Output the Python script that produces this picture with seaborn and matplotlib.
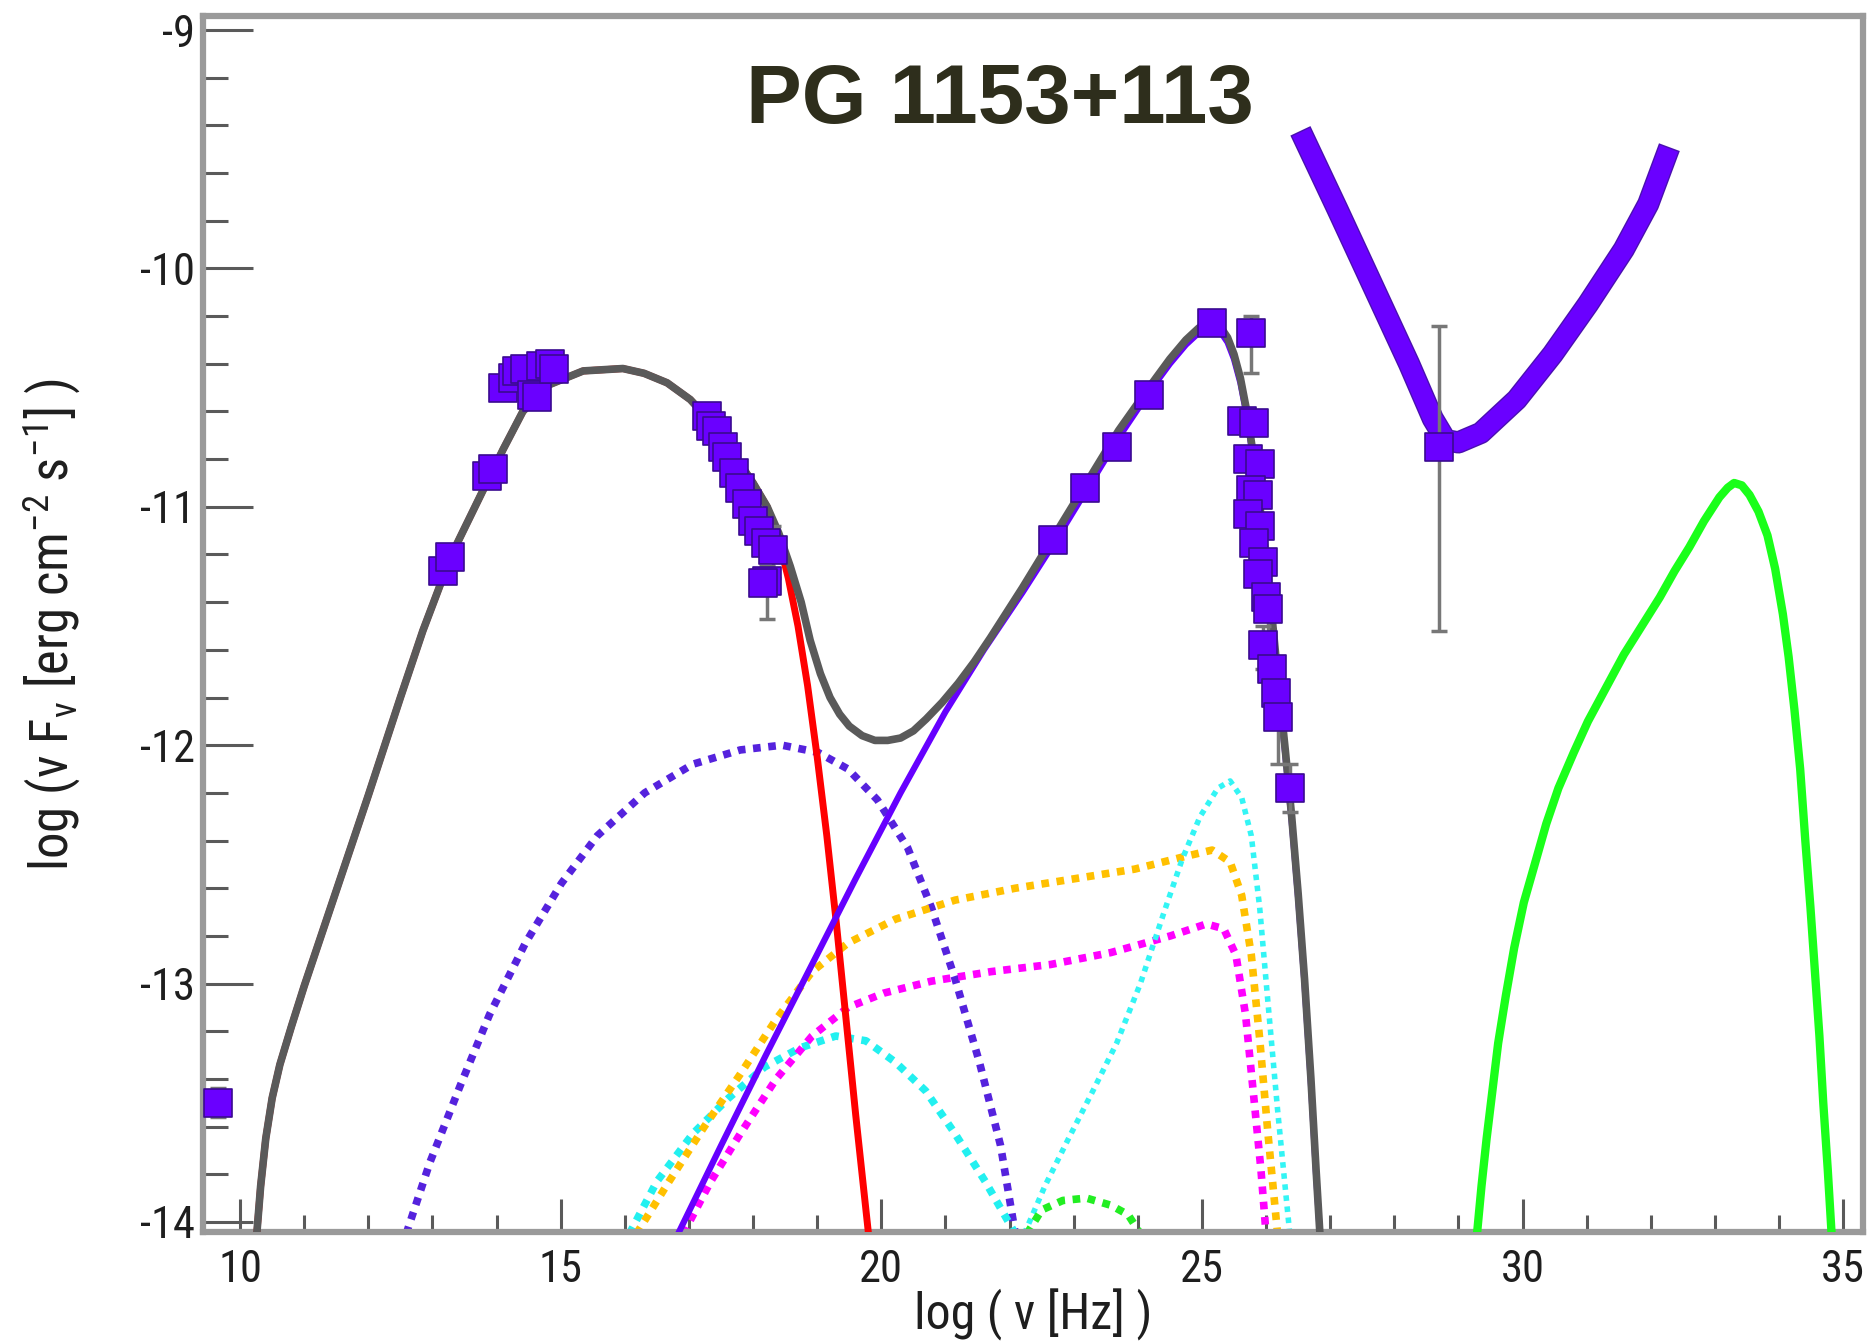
import numpy as np
import pandas as pd
import matplotlib
matplotlib.use("Agg")
import matplotlib.pyplot as plt
import matplotlib.patheffects as pe
from matplotlib import font_manager as fm
from matplotlib.ticker import MultipleLocator, FuncFormatter
import seaborn as sns

# ---------------- data (log nu [Hz], log nuFnu [erg cm^-2 s^-1]) ----------------
total_x = [10.26, 10.32, 10.4, 10.5, 10.62, 10.8, 11.0, 11.5, 12.0, 12.5, 12.85, 13.3, 13.79, 14.1,
           14.41, 14.8, 15.35, 15.97, 16.3, 16.66, 17.02, 17.4, 17.8, 18.0, 18.22, 18.4, 18.58, 18.75,
           18.89, 19.05, 19.2, 19.35, 19.5, 19.7, 19.9, 20.1, 20.3, 20.5, 20.7, 20.95, 21.2, 21.45,
           21.7, 22.2, 22.7, 23.2, 23.7, 24.2, 24.5, 24.75, 24.95, 25.1, 25.2, 25.3, 25.4, 25.5, 25.6,
           25.7, 25.8, 25.9, 26.0, 26.1, 26.2, 26.3, 26.4, 26.5, 26.6, 26.7, 26.78, 26.84]
total_y = [-14.05, -13.85, -13.65, -13.48, -13.34, -13.18, -13.01, -12.61, -12.21, -11.8, -11.52, -11.2,
           -10.93, -10.76, -10.6, -10.49, -10.43, -10.42, -10.44, -10.48, -10.55, -10.66, -10.82, -10.9,
           -11.0, -11.11, -11.25, -11.4, -11.56, -11.7, -11.8, -11.87, -11.92, -11.96, -11.98, -11.98,
           -11.97, -11.94, -11.89, -11.82, -11.74, -11.65, -11.55, -11.34, -11.12, -10.9, -10.68, -10.49,
           -10.38, -10.3, -10.25, -10.225, -10.225, -10.25, -10.29, -10.36, -10.46, -10.6, -10.78, -10.99,
           -11.22, -11.48, -11.76, -12.02, -12.3, -12.62, -12.98, -13.4, -13.78, -14.05]

sync_x = [10.26, 10.32, 10.4, 10.5, 10.62, 10.8, 11.0, 11.5, 12.0, 12.5, 12.85, 13.3, 13.79, 14.1,
          14.41, 14.8, 15.35, 15.97, 16.3, 16.66, 17.02, 17.4, 17.8, 18.0, 18.22, 18.4, 18.55, 18.7,
          18.85, 19.0, 19.15, 19.3, 19.45, 19.6, 19.72, 19.8]
sync_y = [-14.05, -13.85, -13.65, -13.48, -13.34, -13.18, -13.01, -12.61, -12.21, -11.8, -11.52, -11.2,
          -10.93, -10.76, -10.6, -10.49, -10.43, -10.42, -10.44, -10.48, -10.55, -10.66, -10.82, -10.9,
          -11.0, -11.14, -11.3, -11.5, -11.75, -12.05, -12.38, -12.75, -13.15, -13.55, -13.85, -14.05]

ic_x = [16.83, 17.5, 18.2, 18.9, 19.6, 20.3, 21.0, 21.6, 22.2, 22.7, 23.2, 23.7, 24.2, 24.5, 24.75,
        24.95, 25.1, 25.2, 25.3, 25.4, 25.5, 25.6, 25.7, 25.8, 25.9, 26.0, 26.1, 26.2, 26.3, 26.4,
        26.5, 26.6, 26.7, 26.78, 26.84]
ic_y = [-14.05, -13.68, -13.3, -12.93, -12.56, -12.2, -11.86, -11.6, -11.36, -11.15, -10.93, -10.71,
        -10.51, -10.4, -10.32, -10.27, -10.245, -10.245, -10.27, -10.31, -10.38, -10.48, -10.62, -10.8,
        -11.01, -11.24, -11.5, -11.78, -12.04, -12.32, -12.64, -13.0, -13.42, -13.8, -14.05]

vdot_x = [12.59, 12.96, 13.43, 13.89, 14.45, 15.01, 15.57, 16.31, 17.06, 17.8, 18.45, 19.01, 19.48,
          19.94, 20.41, 20.78, 21.15, 21.53, 21.86, 22.09]
vdot_y = [-14.05, -13.75, -13.43, -13.13, -12.83, -12.58, -12.38, -12.2, -12.08, -12.02, -12.0, -12.03,
          -12.1, -12.23, -12.43, -12.68, -12.98, -13.33, -13.68, -14.05]

orange_x = [16.18, 16.69, 17.24, 17.8, 18.36, 18.92, 19.48, 20.22, 21.15, 22.09, 23.02, 23.95, 24.69,
            25.16, 25.44, 25.62, 25.77, 25.9, 26.03, 26.18]
orange_y = [-14.05, -13.83, -13.6, -13.38, -13.15, -12.95, -12.83, -12.73, -12.65, -12.6, -12.56,
            -12.52, -12.47, -12.44, -12.49, -12.63, -12.88, -13.23, -13.63, -14.05]

magenta_x = [16.91, 17.34, 17.8, 18.36, 18.92, 19.48, 20.04, 20.78, 21.71, 22.64, 23.58, 24.51, 25.07,
             25.34, 25.53, 25.68, 25.81, 25.92, 26.0]
magenta_y = [-14.05, -13.83, -13.63, -13.4, -13.22, -13.1, -13.04, -12.99, -12.95, -12.92, -12.87,
             -12.8, -12.75, -12.77, -12.88, -13.13, -13.48, -13.78, -14.05]

cyan1_x = [16.07, 16.5, 17.06, 17.62, 18.18, 18.73, 19.29, 19.76, 20.22, 20.69, 21.15, 21.62, 22.09]
cyan1_y = [-14.05, -13.83, -13.63, -13.48, -13.35, -13.27, -13.22, -13.24, -13.33, -13.45, -13.63,
           -13.83, -14.05]

cyan2_x = [22.23, 22.55, 22.92, 23.3, 23.67, 24.04, 24.41, 24.69, 24.97, 25.25, 25.44, 25.62, 25.77,
           25.9, 26.03, 26.18, 26.37]
cyan2_y = [-14.05, -13.85, -13.65, -13.45, -13.25, -13.0, -12.7, -12.48, -12.3, -12.18, -12.15, -12.22,
           -12.38, -12.68, -13.08, -13.53, -14.05]

gdot_x = [22.27, 22.5, 22.83, 23.2, 23.58, 23.85, 24.04]
gdot_y = [-14.05, -13.95, -13.91, -13.9, -13.93, -13.97, -14.05]

sens_x = [26.61, 27.11, 27.67, 28.23, 28.6, 28.8, 29.0, 29.35, 29.91, 30.47, 31.02, 31.58, 31.96, 32.23]
sens_y = [-9.465, -9.75, -10.075, -10.4, -10.63, -10.72, -10.73, -10.69, -10.55, -10.36, -10.15, -9.92,
          -9.73, -9.535]

nu_x = [29.29, 29.36, 29.44, 29.53, 29.62, 29.74, 29.87, 30.02, 30.19, 30.37, 30.56, 30.8, 31.02, 31.3,
        31.58, 31.86, 32.14, 32.37, 32.6, 32.83, 33.07, 33.2, 33.3, 33.42, 33.54, 33.68, 33.82, 33.94,
        34.06, 34.15, 34.24, 34.33, 34.41, 34.49, 34.56, 34.63, 34.69, 34.76, 34.82]
nu_y = [-14.05, -13.85, -13.65, -13.45, -13.25, -13.05, -12.85, -12.66, -12.5, -12.33, -12.18, -12.03,
        -11.9, -11.76, -11.62, -11.5, -11.38, -11.27, -11.17, -11.06, -10.96, -10.92, -10.9, -10.91,
        -10.95, -11.02, -11.12, -11.26, -11.45, -11.63, -11.85, -12.1, -12.4, -12.68, -12.95, -13.22,
        -13.5, -13.78, -14.05]

obs_x = [9.66,
         13.17, 13.28, 13.85, 13.95, 14.1, 14.25, 14.32, 14.45, 14.55, 14.63, 14.7, 14.83, 14.9,
         17.28, 17.35, 17.43, 17.53, 17.6, 17.7, 17.8, 17.9, 18.0, 18.1, 18.2, 18.31, 18.22, 18.15,
         22.68, 23.17, 23.67, 24.17, 25.16, 25.77,
         25.62, 25.81, 25.72, 25.9, 25.77, 25.87, 25.72, 25.9, 25.81, 25.96, 25.87, 26.0, 26.03, 25.96,
         26.09, 26.15, 26.18, 26.37,
         28.70]
obs_y = [-13.5,
         -11.27, -11.21, -10.87, -10.84, -10.5, -10.46, -10.43, -10.42, -10.53, -10.54, -10.41, -10.40, -10.42,
         -10.62, -10.66, -10.68, -10.75, -10.79, -10.86, -10.92, -10.99, -11.06, -11.1, -11.15, -11.18, -11.31, -11.32,
         -11.14, -10.92, -10.75, -10.53, -10.23, -10.27,
         -10.64, -10.65, -10.80, -10.82, -10.93, -10.95, -11.03, -11.08, -11.15, -11.23, -11.28, -11.38, -11.43, -11.58,
         -11.68, -11.78, -11.88, -12.18,
         -10.75]

err_x = [9.66, 18.31, 18.22, 25.77, 25.96, 26.03, 26.18, 26.37, 28.70]
err_y = [-13.5, -11.18, -11.31, -10.27, -11.58, -11.43, -11.88, -12.18, -10.75]
err_lo = [0.06, 0.12, 0.16, 0.17, 0.1, 0.1, 0.2, 0.1, 0.77]
err_hi = [0.06, 0.1, 0.06, 0.07, 0.08, 0.06, 0.05, 0.1, 0.51]

x_ticks = [10, 15, 20, 25, 30, 35]
y_ticks = [-14, -13, -12, -11, -10, -9]

# ---------------- fonts ----------------
sns.set_style("white")

def pick_narrow():
    prefs = ["Liberation Sans Narrow", "Arial Narrow", "Nimbus Sans Narrow", "Roboto Condensed",
             "Open Sans Condensed", "Noto Sans", "Open Sans", "DejaVu Sans", "Roboto", "Lato"]
    found = {}
    for f in fm.fontManager.ttflist:
        st = str(f.stretch)
        narrow = ("Narrow" in f.name or "Condensed" in f.name or
                  st in ("condensed", "semi-condensed", "extra-condensed"))
        if narrow and f.weight in (400, "normal", "regular", "book") and f.style == "normal":
            found.setdefault(f.name, st)
    for p in prefs:
        if p in found:
            return p, found[p]
    return None, None

nname, nstretch = pick_narrow()
if nname is not None:
    base_family = [nname, "Liberation Sans", "DejaVu Sans"]
    tick_fs, lab_fs, ylab_fs = 32, 36, 38
    math_rm = f"{nname}:stretch={nstretch}" if nstretch not in ("normal", "None") else nname
else:
    base_family = ["Liberation Sans", "DejaVu Sans"]
    tick_fs, lab_fs, ylab_fs = 28, 31, 33
    math_rm = "Liberation Sans"

plt.rcParams["font.family"] = base_family
if nname is not None and nstretch not in ("normal", "None"):
    plt.rcParams["font.stretch"] = nstretch
plt.rcParams["mathtext.fontset"] = "custom"
plt.rcParams["mathtext.rm"] = math_rm
plt.rcParams["mathtext.it"] = math_rm
plt.rcParams["axes.unicode_minus"] = False

fig = plt.figure(figsize=(18.72, 13.42), dpi=100)
ax = fig.add_axes([0.1084, 0.0820, 0.8868, 0.9061])

def curve(xs, ys, color, lw, dotted=False, z=2, **kw):
    df = pd.DataFrame({"x": xs, "y": ys})
    extra = dict(kw)
    if dotted:
        extra["linestyle"] = (0, (1.0, 1.0))
    sns.lineplot(data=df, x="x", y="y", ax=ax, color=color, lw=lw, sort=False,
                 estimator=None, zorder=z, **extra)

dot_lw = 5.5
curve(vdot_x, vdot_y, "#5522dd", dot_lw, dotted=True)
curve(cyan1_x, cyan1_y, "#22f0f0", dot_lw, dotted=True)
curve(orange_x, orange_y, "#ffc000", dot_lw, dotted=True)
curve(magenta_x, magenta_y, "#ff00ff", dot_lw, dotted=True)
curve(cyan2_x, cyan2_y, "#33f5f5", 4.0, dotted=True)
curve(gdot_x, gdot_y, "#22ee22", dot_lw, dotted=True)
curve(sync_x, sync_y, "#ff0000", 5.0, z=3)
curve(ic_x, ic_y, "#6600ff", 4.5, z=3)
curve(total_x, total_y, "#5a5a5a", 5.5, z=4)
curve(nu_x, nu_y, "#1aff1a", 6.0, z=3)
curve(sens_x, sens_y, "#6a00ff", 14, z=5, solid_capstyle="projecting", solid_joinstyle="round",
      path_effects=[pe.Stroke(linewidth=16, foreground="#4a10b0"), pe.Normal()])

ax.errorbar(err_x, err_y, yerr=[err_lo, err_hi], fmt="none", ecolor="#777777",
            elinewidth=2.5, capsize=6, capthick=2.5, zorder=5)
sns.scatterplot(x=obs_x, y=obs_y, ax=ax, marker="s", s=380, color="#6a00ff",
                edgecolor="#3a0a90", linewidth=1.2, zorder=6)

# ---------------- axes ----------------
ax.set_xlim(9.42, 35.31)
ax.set_ylim(-14.042, -8.941)
ax.set_xticks(x_ticks)
ax.set_yticks(y_ticks)
ax.xaxis.set_minor_locator(MultipleLocator(1))
ax.yaxis.set_minor_locator(MultipleLocator(0.2))
ax.xaxis.set_major_formatter(FuncFormatter(lambda v, p: f"{int(round(v))}"))
ax.yaxis.set_major_formatter(FuncFormatter(lambda v, p: f"{int(round(v))}"))
ax.tick_params(which="both", direction="in", bottom=True, left=True, top=False, right=False,
               color="#5a5a5a", labelcolor="#1e1e1e", labelsize=tick_fs)
ax.tick_params(axis="x", which="major", length=24, width=2.2, pad=12)
ax.tick_params(axis="x", which="minor", length=12, width=2.2)
ax.tick_params(axis="y", which="major", length=36, width=2.2, pad=6)
ax.tick_params(axis="y", which="minor", length=18, width=2.2)
for s in ax.spines.values():
    s.set_color("#9a9a9a")
    s.set_linewidth(4.5)
    s.set_visible(True)

ax.set_xlabel("log ( ν [Hz] )", fontsize=lab_fs, color="#1e1e1e")
ax.set_ylabel(r"log (ν F$_{\mathrm{\nu}}$ [erg cm$^{-2}$ s$^{-1}$] )", fontsize=ylab_fs, color="#1e1e1e")
ax.xaxis.set_label_coords(0.5, -0.047)
ax.yaxis.set_label_coords(-0.072, 0.5)

ax.text(0.48, 0.93, "PG 1153+113", transform=ax.transAxes, ha="center", va="center",
        fontsize=60, fontweight="bold", fontstretch="normal", color="#2e2e1c",
        family=["Liberation Sans", "DejaVu Sans"], zorder=7)

fig.savefig("out.png", dpi=100)
